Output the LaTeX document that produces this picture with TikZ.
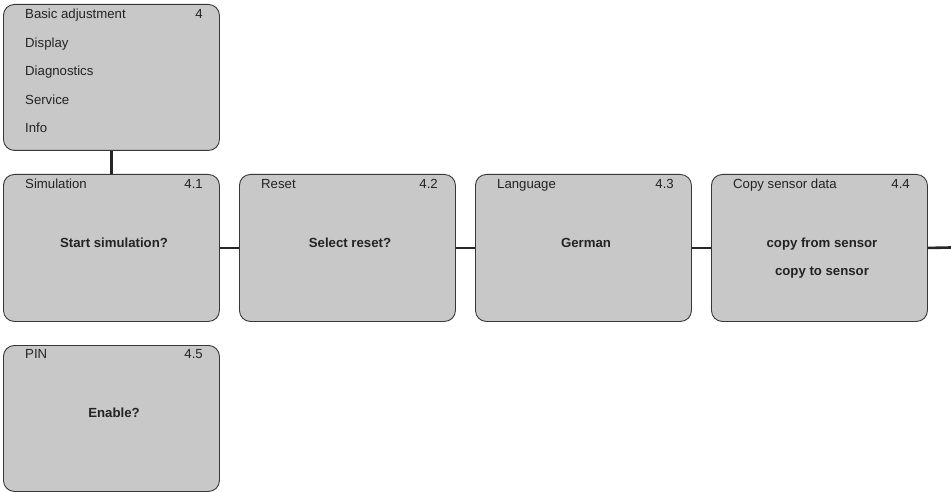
\documentclass[tikz,border=0pt]{standalone}
\usepackage{fontspec}
\setmainfont{Liberation Sans}
\definecolor{boxfill}{RGB}{200,200,201}
\definecolor{boxline}{RGB}{55,55,55}
\definecolor{txt}{RGB}{35,35,35}
\begin{document}
\begin{tikzpicture}[x=1pt,y=-1pt,
  menubox/.style={draw=boxline,line width=0.9pt,fill=boxfill,rounded corners=11pt,
    minimum width=216pt,minimum height=147pt,inner sep=0pt,anchor=north west},
  ttl/.style={anchor=base west,inner sep=0pt,text=txt,font=\fontsize{13.2}{15}\selectfont},
  num/.style={anchor=base east,inner sep=0pt,text=txt,font=\fontsize{13.2}{15}\selectfont},
  bodytxt/.style={anchor=base,inner sep=0pt,text=txt,font=\fontsize{13.2}{15}\selectfont\bfseries},
  conn/.style={draw=black!85,line width=2.6pt}]
\useasboundingbox (0,0) rectangle (951,492);
% boxes
\node[menubox,minimum height=146pt] (b4) at (3,4) {};
\node[menubox] (b41) at (3,174) {};
\node[menubox] (b42) at (239,174) {};
\node[menubox] (b43) at (475,174) {};
\node[menubox] (b44) at (711,174) {};
\node[menubox,minimum height=146pt] (b45) at (3,345) {};
\coordinate (end) at (951,247.5);
% connectors
\draw[conn] (b4.south) -- (b41.north);
\draw[conn] (b41.east) -- (b42.west);
\draw[conn] (b42.east) -- (b43.west);
\draw[conn] (b43.east) -- (b44.west);
\draw[conn] (b44.east) -- (end);
% top box texts
\node[ttl] (t4a) at (25,19) {Basic adjustment};
\node[num] (n4) at (203,19) {4};
\node[ttl] (t4b) at (25,47.5) {Display};
\node[ttl] (t4c) at (25,76) {Diagnostics};
\node[ttl] (t4d) at (25,104.5) {Service};
\node[ttl] (t4e) at (25,133) {Info};
% row titles
\node[ttl] (t41) at (25,188.5) {Simulation};
\node[num] (n41) at (203,188.5) {4.1};
\node[ttl] (t42) at (261,188.5) {Reset};
\node[num] (n42) at (438,188.5) {4.2};
\node[ttl] (t43) at (497,188.5) {Language};
\node[num] (n43) at (674,188.5) {4.3};
\node[ttl] (t44) at (733,188.5) {Copy sensor data};
\node[num] (n44) at (910,188.5) {4.4};
\node[ttl] (t45) at (25,358.5) {PIN};
\node[num] (n45) at (203,358.5) {4.5};
% body texts
\node[bodytxt] (c41) at (114,247.5) {Start simulation?};
\node[bodytxt] (c42) at (350,247.5) {Select reset?};
\node[bodytxt] (c43) at (586,247.5) {German};
\node[bodytxt] (c44a) at (822,247.5) {copy from sensor};
\node[bodytxt] (c44b) at (822,275.5) {copy to sensor};
\node[bodytxt] (c45) at (114,417.5) {Enable?};
\end{tikzpicture}
\end{document}
